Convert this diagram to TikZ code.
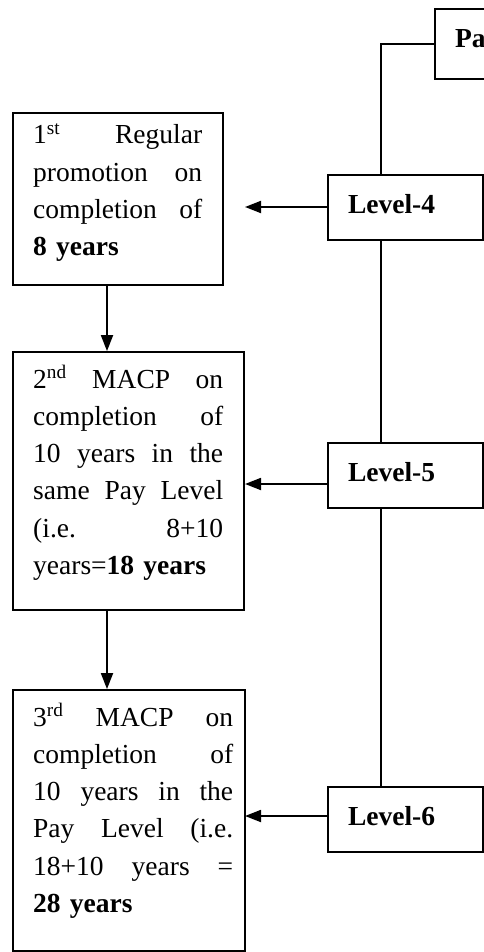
\documentclass[tikz,border=0pt]{standalone}
\usepackage{fontspec}
\setmainfont{Liberation Serif}
\usetikzlibrary{arrows.meta}
\newcommand{\jline}[1]{\leavevmode\hbox to \linewidth{#1}\\}
\begin{document}
\begin{tikzpicture}[x=1pt,y=-1pt,
  frame/.style={draw, line width=1.8pt, rectangle, inner sep=0pt},
  txt/.style={inner sep=0pt, anchor=base west, align=left,
    font=\fontsize{27.5}{37.3}\selectfont},
  lvl/.style={frame, font=\fontsize{27.5}{33}\selectfont\bfseries,
    minimum width=155pt, minimum height=65pt, text width=115pt,
    inner xsep=20pt, align=left, text height=19pt, text depth=8pt},
  conn/.style={line width=1.8pt},
  arr/.style={conn, -{Triangle[length=16pt,width=12pt]}}]
\useasboundingbox (0,0) rectangle (484,952);
\begin{scope}
\clip (0,0) rectangle (484,952);
% top box (cut by the edge)
\node[frame, font=\fontsize{27.5}{33}\selectfont\bfseries, minimum width=130pt,
  minimum height=70pt, text width=90pt, inner xsep=20pt, align=left,
  text height=19pt, text depth=11pt] (pa) at (500,44) {Pa};
% level boxes
\node[lvl] (l4) at (405.5,207.5) {Level-4};
\node[lvl] (l5) at (405.5,475.5) {Level-5};
\node[lvl] (l6) at (405.5,819.5) {Level-6};
% left boxes
\node[frame, minimum width=210pt, minimum height=172pt] (b1) at (118,199) {};
\node[frame, minimum width=231pt, minimum height=258pt] (b2) at (128.5,481) {};
\node[frame, minimum width=232pt, minimum height=261pt] (b3) at (129,820.5) {};
\node[txt, text width=169pt] (t1) at (33,144) {%
  \jline{1\textsuperscript{st}\hfill Regular}
  \jline{promotion\hfill on}
  \jline{completion\hfill of}
  \textbf{8 years}};
\node[txt, text width=190pt] (t2) at (33,388) {%
  \jline{2\textsuperscript{nd}\hfill MACP\hfill on}
  \jline{completion\hfill of}
  \jline{10\hfill years\hfill in\hfill the}
  \jline{same\hfill Pay\hfill Level}
  \jline{(i.e.\hfill 8+10}
  years=\textbf{18 years}};
\node[txt, text width=200pt] (t3) at (33,726) {%
  \jline{3\textsuperscript{rd}\hfill MACP\hfill on}
  \jline{completion\hfill of}
  \jline{10\hfill years\hfill in\hfill the}
  \jline{Pay\hfill Level\hfill (i.e.}
  \jline{18+10\hfill years\hfill =}
  \textbf{28 years}};
% connector coordinates
\coordinate (vx) at (381,0);
\coordinate (lx) at (107,0);
\coordinate (a4) at (245,207);
\coordinate (a5) at (245,484);
\coordinate (a6) at (245,816);
% spine
\draw[conn] (pa.west) -| (vx |- l4.north);
\draw[conn] (vx |- l4.south) -- (vx |- l5.north);
\draw[conn] (vx |- l5.south) -- (vx |- l6.north);
% horizontal arrows
\draw[arr] (l4.west |- a4) -- (a4);
\draw[arr] (l5.west |- a5) -- (a5);
\draw[arr] (l6.west |- a6) -- (a6);
% vertical arrows
\draw[arr] (lx |- b1.south) -- (lx |- b2.north);
\draw[arr] (lx |- b2.south) -- (lx |- b3.north);
\end{scope}
\end{tikzpicture}
\end{document}
